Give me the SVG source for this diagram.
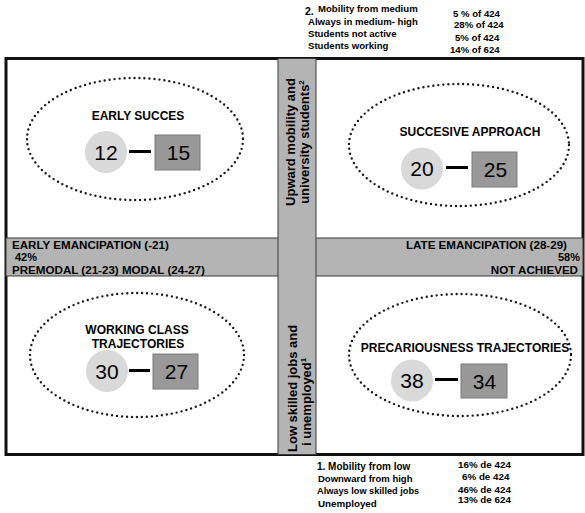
<svg xmlns="http://www.w3.org/2000/svg" width="585" height="513" viewBox="0 0 585 513">
<style>
.t{font-family:"Liberation Sans",Arial,sans-serif;fill:#000}
.b{font-weight:bold}
.note{font-family:"Liberation Sans",Arial,sans-serif;font-weight:bold;font-size:9.6px}
.band{fill:#b4b4b4;stroke:#3a3a3a;stroke-width:1}
.ell{fill:none;stroke:#1a1a1a;stroke-width:2.4;stroke-linecap:round;stroke-dasharray:0 5}
.circ{fill:#d9d9d9}
.box{fill:#999999;stroke:#7a7a7a;stroke-width:1}
.num{font-family:"Liberation Sans",Arial,sans-serif;font-size:21px;text-anchor:middle}
.lab{font-family:"Liberation Sans",Arial,sans-serif;font-weight:bold;font-size:12px;text-anchor:middle}
.conn{stroke:#000;stroke-width:3}
</style>
<rect width="585" height="513" fill="#fff"/>

<!-- top notes -->
<g id="notes-top" class="note">
<text x="305" y="15" font-size="10.5">2.</text>
<text x="318" y="12">Mobility from medium</text>
<text x="308" y="24.5">Always in medium- high</text>
<text x="308" y="37">Students not active</text>
<text x="308" y="49">Students working</text>
<text x="453" y="17">5 %  of 424</text>
<text x="454" y="28">28%  of 424</text>
<text x="455" y="41">5%  of 424</text>
<text x="450" y="53">14%  of 624</text>
</g>

<!-- frame -->
<rect x="6" y="58.5" width="577" height="396" fill="none" stroke="#111" stroke-width="3"/>

<!-- bands -->
<g id="bands">
<rect class="band" x="6" y="238" width="577" height="38"/>
<rect class="band" x="278" y="58.5" width="38" height="396"/>
</g>

<g id="band-labels" class="t b" font-size="11.6">
<text x="12" y="249">EARLY EMANCIPATION (-21)</text>
<text x="15" y="261" font-size="11">42%</text>
<text x="12" y="273.5">PREMODAL (21-23) MODAL (24-27)</text>
<text x="567" y="249" text-anchor="end">LATE EMANCIPATION (28-29)</text>
<text x="580" y="261" text-anchor="end" font-size="11">58%</text>
<text x="578" y="273.5" text-anchor="end">NOT ACHIEVED</text>
</g>

<g id="axis-up" class="t b" font-size="13">
<text transform="translate(295,142) rotate(-90)" text-anchor="middle">Upward mobility and</text>
<text transform="translate(309,142) rotate(-90)" text-anchor="middle">university students<tspan font-size="8" dy="-5">2</tspan></text>
</g>
<g id="axis-down" class="t b" font-size="13">
<text transform="translate(297,452) rotate(-90)">Low skilled jobs and</text>
<text transform="translate(311,446) rotate(-90)">i  unemployed<tspan font-size="8" dy="-5">1</tspan></text>
</g>

<!-- connectors -->
<g id="connectors">
<line class="conn" x1="129" y1="151.5" x2="151" y2="151.5"/>
<line class="conn" x1="446" y1="167.5" x2="468" y2="167.5"/>
<line class="conn" x1="129" y1="370.5" x2="150" y2="370.5"/>
<line class="conn" x1="435" y1="379.5" x2="458" y2="379.5"/>
</g>

<!-- clusters -->
<g id="early-succes">
<ellipse class="ell" cx="135" cy="139" rx="108" ry="61"/>
<text class="lab" x="138" y="120">EARLY SUCCES</text>
<g id="n12"><circle class="circ" cx="106" cy="152" r="21"/><text class="num" x="106" y="160">12</text></g>
<g id="n15"><rect class="box" x="155" y="135" width="45" height="35"/><text class="num" x="178.5" y="160">15</text></g>
</g>

<g id="succesive-approach">
<ellipse class="ell" cx="459" cy="145" rx="110" ry="61"/>
<text class="lab" x="470" y="136">SUCCESIVE APPROACH</text>
<g id="n20"><circle class="circ" cx="422" cy="168.5" r="21"/><text class="num" x="422" y="176">20</text></g>
<g id="n25"><rect class="box" x="472" y="152" width="45" height="35"/><text class="num" x="495.5" y="177">25</text></g>
</g>

<g id="working-class">
<ellipse class="ell" cx="137" cy="355" rx="107" ry="62"/>
<text class="lab" x="137" y="334">WORKING CLASS</text>
<text class="lab" x="138" y="348">TRAJECTORIES</text>
<g id="n30"><circle class="circ" cx="107" cy="371" r="21"/><text class="num" x="107" y="379">30</text></g>
<g id="n27"><rect class="box" x="153" y="354" width="45" height="35"/><text class="num" x="176.5" y="379">27</text></g>
</g>

<g id="precariousness">
<ellipse class="ell" cx="460" cy="355" rx="111" ry="61"/>
<text class="lab" x="465" y="352">PRECARIOUSNESS TRAJECTORIES</text>
<g id="n38"><circle class="circ" cx="412" cy="380.5" r="21"/><text class="num" x="412" y="388">38</text></g>
<g id="n34"><rect class="box" x="461" y="364" width="46" height="34"/><text class="num" x="484.5" y="389">34</text></g>
</g>

<!-- bottom notes -->
<g id="notes-bottom" class="note" font-size="9.5">
<text x="317" y="470" style="font-size:10px">1. Mobility from low</text>
<text x="318" y="482" style="font-size:9.5px">Downward from high</text>
<text x="317" y="494" style="font-size:9.2px">Always low skilled jobs</text>
<text x="318" y="507" style="font-size:9.8px">Unemployed</text>
<text x="458" y="468" style="font-size:9.8px">16%  de 424</text>
<text x="462" y="480" style="font-size:9.8px">6%  de 424</text>
<text x="458" y="493" style="font-size:9.8px">46%  de 424</text>
<text x="458" y="503" style="font-size:9.8px">13%  de 624</text>
</g>
</svg>
